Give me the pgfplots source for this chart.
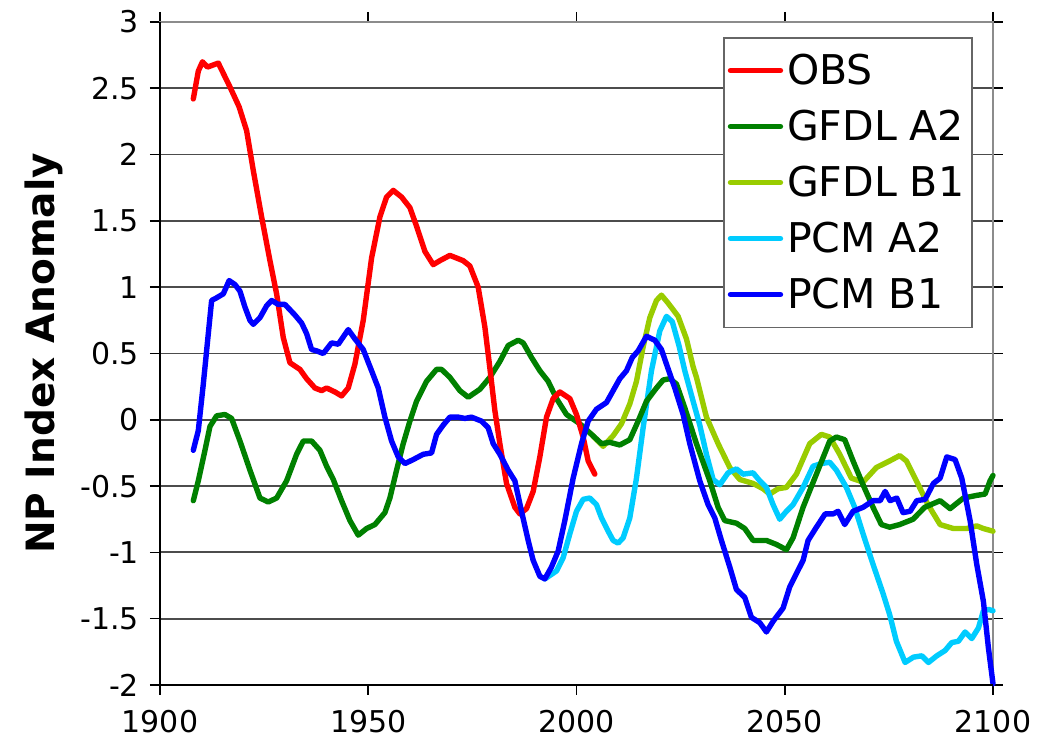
\documentclass[border=0pt]{standalone}
\usepackage{fontspec}
\setmainfont{DejaVu Sans}
\usepackage{pgfplots}
\pgfplotsset{compat=1.18}
\definecolor{cobs}{RGB}{255,0,0}
\definecolor{cga}{RGB}{0,128,0}
\definecolor{cgb}{RGB}{153,204,0}
\definecolor{cpa}{RGB}{0,204,255}
\definecolor{cpb}{RGB}{0,0,255}
\begin{document}
\begin{tikzpicture}
\path[use as bounding box] (-80pt,-32pt) rectangle (445.5pt,342.5pt);
\begin{axis}[
  at={(0,0)}, anchor=south west,
  scale only axis, width=416.5pt, height=331.5pt,
  xmin=1900, xmax=2100, ymin=-2, ymax=3,
  xtick={1900,1950,2000,2050,2100},
  xticklabels={1900,1950,2000,2050,2100},
  ytick={-2,-1.5,-1,-0.5,0,0.5,1,1.5,2,2.5,3},
  yticklabels={-2,-1.5,-1,-0.5,0,0.5,1,1.5,2,2.5,3},
  tick label style={font=\fontsize{15}{18}\selectfont},
  xticklabel style={yshift=-4pt},
  yticklabel style={xshift=-2pt},
  tick align=outside, major tick length=5pt,
  tick style={black, line width=0.8pt},
  ymajorgrids, grid style={black!70, line width=0.9pt},
  axis line style={black!45, line width=0.9pt},
  ylabel={\bfseries NP Index Anomaly},
  ylabel style={font=\fontsize{19.5}{22}\selectfont, yshift=2pt},
  legend style={at={(rel axis cs:1,1)}, anchor=north east, xshift=-10pt, yshift=-7.5pt,
    font=\fontsize{20.5}{24}\selectfont, draw=black!60, line width=0.8pt,
    row sep=7.3pt, inner xsep=2pt, inner ysep=6pt},
  legend cell align=left,
  legend image code/.code={\path (0pt,0pt) -- (25pt,0pt);
    \draw[#1, line width=2.2pt] (5pt,0pt) -- (20.5pt,0pt);},
  every axis plot/.append style={line width=2.7pt, line join=round, line cap=round},
  clip=false,
]
\addlegendimage{cobs}\addlegendentry{OBS}
\addlegendimage{cga}\addlegendentry{GFDL A2}
\addlegendimage{cgb}\addlegendentry{GFDL B1}
\addlegendimage{cpa}\addlegendentry{PCM A2}
\addlegendimage{cpb}\addlegendentry{PCM B1}
% GFDL B1
\addplot[cgb, forget plot] coordinates {
(2003.6,-0.11) (2006.4,-0.20) (2008.8,-0.12) (2010.8,-0.03) (2012.8,0.12) (2014.4,0.29)
(2016.0,0.55) (2017.6,0.77) (2019.2,0.90) (2020.4,0.94) (2022.0,0.88) (2024.4,0.78)
(2026.4,0.61) (2028.0,0.40) (2028.8,0.32) (2031.2,0.02) (2034.0,-0.18) (2036.8,-0.36)
(2039.2,-0.45) (2042.4,-0.48) (2044.8,-0.52) (2046.4,-0.56) (2048.4,-0.52) (2050.4,-0.51)
(2052.8,-0.41) (2056.0,-0.18) (2058.8,-0.11) (2060.8,-0.13) (2063.2,-0.26) (2066.0,-0.44)
(2068.8,-0.47) (2072.0,-0.36) (2075.2,-0.31) (2077.6,-0.27) (2079.2,-0.31) (2081.6,-0.46)
(2084.4,-0.64) (2087.3,-0.79) (2090.5,-0.82) (2093.7,-0.82) (2096.1,-0.80) (2097.7,-0.82)
(2100.0,-0.84)
};
% PCM A2
\addplot[cpa, forget plot] coordinates {
(1992.4,-1.20) (1995.2,-1.14) (1996.8,-1.04) (1998.4,-0.86) (2000.0,-0.69) (2001.6,-0.60)
(2003.2,-0.59) (2004.8,-0.64) (2006.0,-0.74) (2007.6,-0.84) (2008.8,-0.91) (2010.0,-0.93)
(2011.2,-0.89) (2012.8,-0.74) (2014.4,-0.44) (2016.0,-0.06) (2018.0,0.37) (2020.0,0.67)
(2021.6,0.78) (2023.0,0.74) (2024.6,0.56) (2026.0,0.37) (2028.0,0.14) (2029.6,-0.04)
(2031.2,-0.26) (2032.8,-0.45) (2034.4,-0.49) (2036.4,-0.40) (2038.4,-0.37) (2040.0,-0.41)
(2042.4,-0.40) (2044.0,-0.46) (2045.6,-0.51) (2047.2,-0.64) (2048.8,-0.75) (2050.4,-0.69)
(2052.0,-0.64) (2054.4,-0.51) (2056.8,-0.35) (2058.8,-0.33) (2060.8,-0.32) (2062.4,-0.38)
(2064.8,-0.51) (2066.8,-0.66) (2068.8,-0.86) (2071.2,-1.09) (2073.6,-1.31) (2075.2,-1.47)
(2076.8,-1.67) (2078.9,-1.83) (2080.9,-1.79) (2082.9,-1.78) (2084.5,-1.83) (2086.5,-1.78)
(2088.5,-1.74) (2090.1,-1.68) (2091.7,-1.67) (2093.3,-1.60) (2094.9,-1.65) (2096.5,-1.57)
(2097.7,-1.44) (2098.9,-1.43) (2100.0,-1.44)
};
% GFDL A2
\addplot[cga, forget plot] coordinates {
(1908.0,-0.61) (1909.2,-0.46) (1910.8,-0.23) (1912.0,-0.05) (1913.6,0.03) (1915.6,0.04)
(1917.2,0.01) (1919.2,-0.16) (1921.6,-0.38) (1924.0,-0.59) (1926.0,-0.62) (1928.0,-0.59)
(1930.4,-0.46) (1932.8,-0.26) (1934.4,-0.16) (1936.4,-0.16) (1938.4,-0.23) (1940.0,-0.35)
(1941.6,-0.45) (1943.6,-0.61) (1945.6,-0.76) (1947.6,-0.87) (1949.6,-0.82) (1951.6,-0.79)
(1954.0,-0.70) (1955.2,-0.59) (1956.8,-0.38) (1958.4,-0.18) (1960.0,-0.01) (1961.6,0.14)
(1964.0,0.29) (1966.4,0.38) (1967.6,0.38) (1969.6,0.32) (1972.0,0.22) (1974.0,0.17)
(1976.8,0.23) (1979.2,0.32) (1981.6,0.44) (1983.6,0.56) (1986.0,0.60) (1987.2,0.58)
(1989.2,0.47) (1991.2,0.37) (1993.2,0.29) (1995.2,0.16) (1997.6,0.04) (2000.8,-0.03)
(2003.6,-0.11) (2006.0,-0.18) (2008.0,-0.17) (2010.4,-0.19) (2012.8,-0.15) (2014.8,-0.01)
(2016.8,0.14) (2019.2,0.24) (2020.8,0.30) (2022.4,0.31) (2024.0,0.27) (2026.0,0.09)
(2028.8,-0.18) (2032.0,-0.46) (2034.0,-0.66) (2035.6,-0.76) (2038.4,-0.78) (2040.4,-0.82)
(2042.4,-0.91) (2045.6,-0.91) (2048.0,-0.94) (2050.4,-0.98) (2052.0,-0.89) (2054.4,-0.66)
(2057.6,-0.41) (2060.8,-0.16) (2062.4,-0.13) (2064.4,-0.15) (2066.4,-0.31) (2068.8,-0.49)
(2071.2,-0.66) (2073.2,-0.79) (2075.2,-0.81) (2077.6,-0.79) (2080.8,-0.75) (2083.6,-0.66)
(2087.3,-0.61) (2089.7,-0.67) (2092.9,-0.59) (2096.1,-0.57) (2098.1,-0.56) (2099.3,-0.46)
(2100.0,-0.42)
};
% OBS
\addplot[cobs, forget plot] coordinates {
(1908.0,2.42) (1909.2,2.63) (1910.2,2.70) (1911.4,2.66) (1914.0,2.69) (1916.8,2.51)
(1919.0,2.36) (1920.8,2.18) (1922.4,1.88) (1924.4,1.53) (1926.4,1.20) (1928.0,0.95)
(1929.6,0.62) (1931.2,0.43) (1933.6,0.38) (1935.2,0.31) (1937.2,0.24) (1938.8,0.22)
(1940.0,0.24) (1942.0,0.21) (1943.6,0.18) (1945.2,0.24) (1946.8,0.42) (1948.8,0.75)
(1950.8,1.22) (1952.8,1.53) (1954.4,1.68) (1956.0,1.73) (1958.0,1.68) (1960.0,1.60)
(1961.6,1.46) (1963.6,1.27) (1965.6,1.17) (1967.2,1.20) (1969.6,1.24) (1972.8,1.20)
(1974.4,1.16) (1976.4,1.00) (1978.0,0.70) (1979.2,0.39) (1980.4,0.07) (1981.6,-0.18)
(1983.2,-0.48) (1985.2,-0.66) (1986.4,-0.71) (1988.0,-0.67) (1989.6,-0.54) (1991.2,-0.28)
(1992.8,0.02) (1994.4,0.16) (1996.0,0.21) (1998.4,0.16) (2000.0,0.04) (2001.6,-0.13)
(2002.8,-0.31) (2004.4,-0.41)
};
% PCM B1
\addplot[cpb, forget plot] coordinates {
(1908.0,-0.23) (1909.2,-0.08) (1910.4,0.27) (1911.6,0.65) (1912.4,0.90) (1913.6,0.92)
(1915.2,0.95) (1916.6,1.05) (1918.0,1.02) (1919.2,0.97) (1920.4,0.85) (1921.6,0.75)
(1922.4,0.72) (1924.0,0.77) (1925.6,0.86) (1926.8,0.90) (1928.4,0.87) (1930.0,0.87)
(1931.2,0.83) (1932.4,0.79) (1934.0,0.73) (1935.2,0.65) (1936.4,0.53) (1937.6,0.52)
(1939.2,0.50) (1941.2,0.58) (1942.8,0.57) (1945.2,0.68) (1946.8,0.61) (1948.8,0.53)
(1950.8,0.37) (1952.4,0.24) (1954.0,0.02) (1955.6,-0.16) (1957.2,-0.28) (1958.8,-0.33)
(1960.8,-0.30) (1963.2,-0.26) (1965.2,-0.25) (1966.4,-0.11) (1968.0,-0.04) (1969.6,0.02)
(1971.6,0.02) (1973.2,0.01) (1974.8,0.02) (1977.2,-0.01) (1978.8,-0.06) (1980.0,-0.18)
(1981.6,-0.26) (1983.6,-0.38) (1985.2,-0.46) (1986.8,-0.69) (1988.4,-0.91) (1989.6,-1.06)
(1991.2,-1.18) (1992.4,-1.20) (1994.0,-1.11) (1995.6,-0.99) (1997.2,-0.76) (1999.2,-0.44)
(2001.2,-0.18) (2002.8,-0.01) (2004.8,0.08) (2007.2,0.13) (2008.8,0.22) (2010.4,0.31)
(2012.0,0.37) (2013.4,0.47) (2014.8,0.52) (2016.8,0.63) (2018.8,0.60) (2020.4,0.53)
(2021.6,0.42) (2023.6,0.24) (2025.6,0.04) (2027.2,-0.18) (2029.6,-0.46) (2031.6,-0.64)
(2033.2,-0.74) (2034.8,-0.91) (2036.8,-1.11) (2038.4,-1.28) (2040.4,-1.34) (2042.0,-1.49)
(2044.0,-1.53) (2045.6,-1.60) (2047.2,-1.52) (2049.6,-1.42) (2051.2,-1.26) (2052.8,-1.16)
(2054.4,-1.06) (2055.6,-0.91) (2057.6,-0.81) (2059.7,-0.71) (2061.6,-0.71) (2062.8,-0.69)
(2064.4,-0.79) (2066.4,-0.69) (2068.8,-0.66) (2071.2,-0.61) (2072.9,-0.61) (2074.1,-0.54)
(2075.3,-0.61) (2076.9,-0.59) (2078.4,-0.70) (2080.1,-0.69) (2081.7,-0.61) (2083.7,-0.60)
(2085.7,-0.48) (2087.3,-0.44) (2088.9,-0.28) (2090.9,-0.30) (2092.5,-0.44) (2094.5,-0.76)
(2096.1,-1.09) (2097.7,-1.37) (2098.9,-1.72) (2100.0,-1.99)
};
\draw[black, line width=0.9pt] (rel axis cs:0,1) -- (rel axis cs:0,0) -- (rel axis cs:1,0);
\end{axis}
\end{tikzpicture}
\end{document}
